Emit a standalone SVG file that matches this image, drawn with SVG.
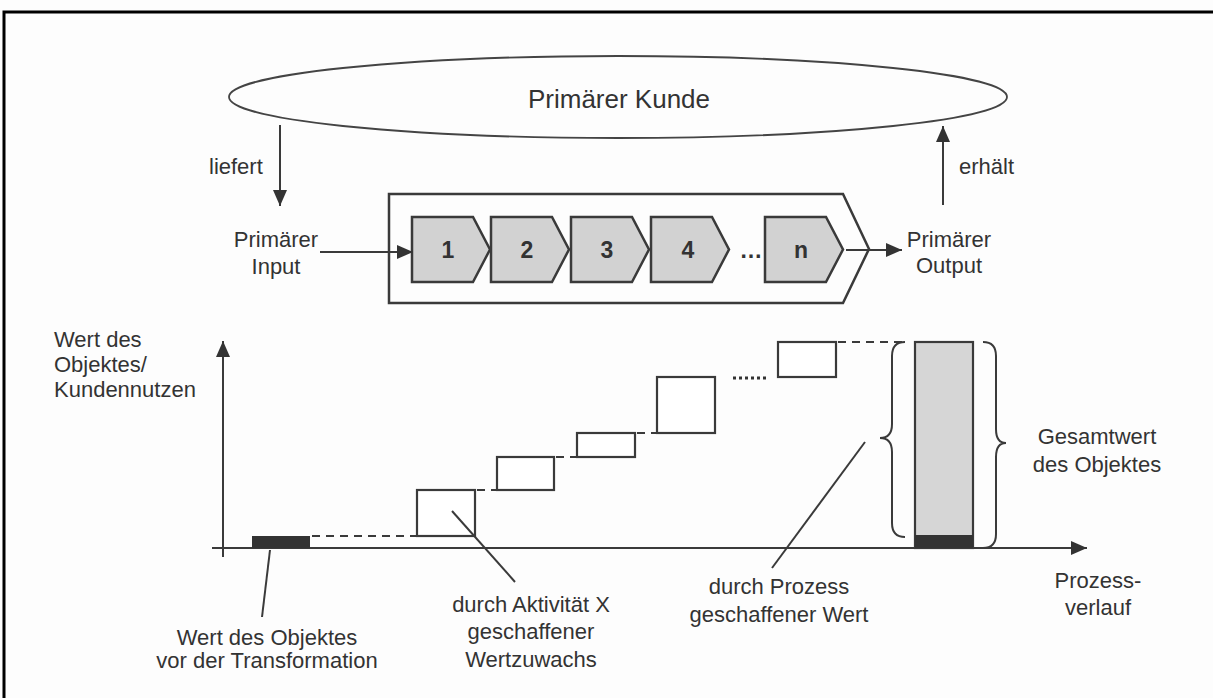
<svg xmlns="http://www.w3.org/2000/svg" width="1213" height="698" viewBox="0 0 1213 698">
  <style>
    .t { font-family: "Liberation Sans", Arial, sans-serif; font-size: 22px; fill: #333; }
    .num { font-family: "Liberation Sans", Arial, sans-serif; font-size: 23px; font-weight: bold; fill: #333; text-anchor: middle; }
    .ln { stroke: #3a3a3a; stroke-width: 2; fill: none; }
    .box { stroke: #3a3a3a; stroke-width: 2.2; fill: #fff; }
    .dash { stroke: #3a3a3a; stroke-width: 2; stroke-dasharray: 8 6; fill: none; }
    .chev { stroke: #3a3a3a; stroke-width: 2.5; fill: #d2d2d2; stroke-linejoin: miter; }
  </style>
  <defs>
    <marker id="ah" markerUnits="userSpaceOnUse" markerWidth="16" markerHeight="14" refX="16" refY="7" orient="auto">
      <path d="M0,0 L16,7 L0,14 Z" fill="#333"/>
    </marker>
    <path id="chevron" d="M0,0 H61 L78,32.5 L61,65 H0 Z"/>
  </defs>

  <rect width="1213" height="698" fill="#fdfdfd"/>
  <!-- frame -->
  <path d="M4,698 V12 H1213" fill="none" stroke="#000" stroke-width="3"/>

  <!-- customer -->
  <g id="kunde">
    <ellipse cx="618" cy="97" rx="389" ry="41" fill="none" stroke="#444" stroke-width="1.8"/>
    <text class="t" x="619" y="108" text-anchor="middle" style="font-size:26px">Primärer Kunde</text>
  </g>

  <!-- process chain -->
  <g id="prozess">
    <path d="M389,194 H843 L869,249 L843,303 H389 Z" fill="none" stroke="#3a3a3a" stroke-width="2.5"/>
    <g id="akt1"><use href="#chevron" x="412" y="217" class="chev"/><text class="num" x="448" y="258">1</text></g>
    <g id="akt2"><use href="#chevron" x="491" y="217" class="chev"/><text class="num" x="527" y="258">2</text></g>
    <g id="akt3"><use href="#chevron" x="571" y="217" class="chev"/><text class="num" x="607" y="258">3</text></g>
    <g id="akt4"><use href="#chevron" x="651" y="217" class="chev"/><text class="num" x="688" y="258">4</text></g>
    <text class="num" x="751" y="258">…</text>
    <g id="aktn"><use href="#chevron" x="765" y="217" class="chev"/><text class="num" x="801" y="258">n</text></g>
  </g>

  <g id="input"><text class="t" text-anchor="middle" x="276" y="247">Primärer</text><text class="t" text-anchor="middle" x="276" y="274">Input</text></g>
  <g id="output"><text class="t" text-anchor="middle" x="949" y="247">Primärer</text><text class="t" text-anchor="middle" x="949" y="273">Output</text></g>

  <!-- connectors -->
  <g id="connectors">
    <line class="ln" x1="280" y1="125" x2="280" y2="206" marker-end="url(#ah)"/>
    <line class="ln" x1="943" y1="205" x2="943" y2="126" marker-end="url(#ah)"/>
    <line class="ln" x1="320" y1="252" x2="413" y2="252" marker-end="url(#ah)"/>
    <line class="ln" x1="846" y1="250" x2="902" y2="250" marker-end="url(#ah)"/>
    <text class="t" x="209" y="174">liefert</text>
    <text class="t" x="959" y="174">erhält</text>
  </g>

  <!-- value chart -->
  <g id="chart">
    <line class="ln" x1="223" y1="557" x2="223" y2="341" marker-end="url(#ah)"/>
    <line class="ln" x1="212" y1="548" x2="1087" y2="548" marker-end="url(#ah)"/>

    <rect x="252" y="536" width="58" height="12" fill="#333"/>
    <line class="dash" x1="312" y1="536" x2="417" y2="536"/>

    <rect class="box" x="417" y="490" width="58" height="46"/>
    <line class="dash" x1="477" y1="490" x2="497" y2="490"/>
    <rect class="box" x="497" y="457" width="57" height="33"/>
    <line class="dash" x1="556" y1="457" x2="577" y2="457"/>
    <rect class="box" x="577" y="433" width="58" height="24"/>
    <line class="dash" x1="637" y1="433" x2="657" y2="433"/>
    <rect class="box" x="657" y="377" width="58" height="56"/>
    <line x1="733" y1="378" x2="766" y2="378" stroke="#333" stroke-width="3" stroke-dasharray="3 3"/>
    <rect class="box" x="778" y="342" width="58" height="35"/>
    <line class="dash" x1="838" y1="342" x2="903" y2="342"/>

    <rect x="915" y="342" width="58" height="206" fill="#d6d6d6" stroke="#3a3a3a" stroke-width="2.2"/>
    <rect x="915" y="535" width="58" height="13" fill="#333"/>

    <path class="ln" d="M905,342 Q892,342 892,356 L892,424 Q892,438 880,438 Q892,438 892,452 L892,523 Q892,537 905,537" stroke-width="1.8"/>
    <path class="ln" d="M983,342 Q996,342 996,356 L996,429 Q996,443 1006,443 Q996,443 996,457 L996,534 Q996,548 983,548" stroke-width="1.8"/>

    <line class="ln" x1="270" y1="550" x2="262" y2="617"/>
    <line class="ln" x1="452" y1="511" x2="515" y2="582"/>
    <line class="ln" x1="865" y1="442" x2="772" y2="568"/>
  </g>

  <!-- chart labels -->
  <g id="labels">
    <g id="achse-y"><text class="t" x="54" y="347">Wert des</text><text class="t" x="54" y="372">Objektes/</text><text class="t" x="54" y="397">Kundennutzen</text></g>
    <g id="achse-x" text-anchor="middle"><text class="t" x="1098" y="588">Prozess-</text><text class="t" x="1098" y="615">verlauf</text></g>
    <g id="gesamt" text-anchor="middle"><text class="t" x="1097" y="444">Gesamtwert</text><text class="t" x="1097" y="472">des Objektes</text></g>
    <g id="anfang" text-anchor="middle"><text class="t" x="267" y="645">Wert des Objektes</text><text class="t" x="267" y="668">vor der Transformation</text></g>
    <g id="zuwachs" text-anchor="middle"><text class="t" x="531" y="612">durch Aktivität X</text><text class="t" x="531" y="639">geschaffener</text><text class="t" x="531" y="667">Wertzuwachs</text></g>
    <g id="prozesswert" text-anchor="middle"><text class="t" x="779" y="594">durch Prozess</text><text class="t" x="779" y="622">geschaffener Wert</text></g>
  </g>
</svg>
